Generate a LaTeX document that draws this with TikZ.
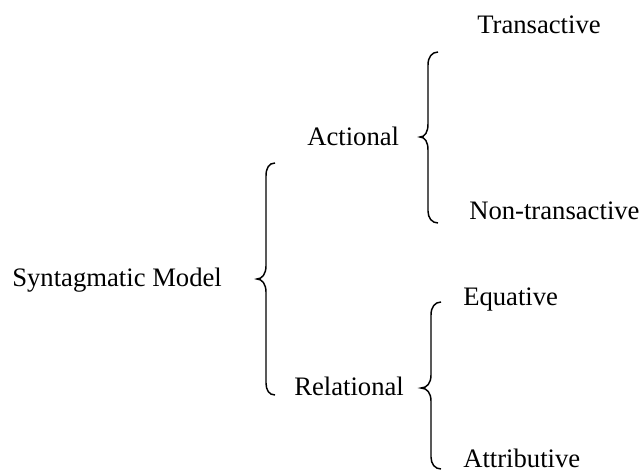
\documentclass[tikz,border=0pt]{standalone}
\usepackage{fontspec}
\setmainfont{Liberation Serif}
\usepackage{tikz}

\tikzset{label text/.style={anchor=base west,inner sep=0pt,font=\fontsize{20}{24}\selectfont}}

\begin{document}
\begin{tikzpicture}[x=0.75pt,y=0.75pt,yscale=-1,xscale=1]
\useasboundingbox (0,0) rectangle (640,472);

%Shape: Brace [id:syntagmatic]
\draw [line width=1.1pt]  (275,163) .. controls (269,163) and (266,168) .. (266,176) -- (266,266) .. controls (266,274) and (262,279) .. (257,279) .. controls (262,279) and (266,284) .. (266,292) -- (266,383) .. controls (266,390) and (269,395) .. (275,395) ;
%Shape: Brace [id:actional]
\draw [line width=1.1pt]  (438,52) .. controls (432,52) and (428,57) .. (428,65) -- (428,124) .. controls (428,132) and (425,137) .. (420,137) .. controls (425,137) and (428,142) .. (428,150) -- (428,211) .. controls (428,218) and (432,223) .. (438,223) ;
%Shape: Brace [id:relational]
\draw [line width=1.1pt]  (441,302) .. controls (435,302) and (431,307) .. (431,315) -- (431,375) .. controls (431,383) and (427,388) .. (421,388) .. controls (427,388) and (431,393) .. (431,401) -- (431,457) .. controls (431,464) and (435,469) .. (441,469) ;

% Text Node
\node [label text] (syn) at (12,286) {Syntagmatic Model};
% Text Node
\node [label text] (act) at (307,145) {Actional};
% Text Node
\node [label text] (rel) at (294,395) {Relational};
% Text Node
\node [label text] (trans) at (477,33) {Transactive};
% Text Node
\node [label text] (nontrans) at (469,219) {Non-transactive};
% Text Node
\node [label text] (equ) at (463,305) {Equative};
% Text Node
\node [label text] (attr) at (463,467) {Attributive};

\end{tikzpicture}
\end{document}
